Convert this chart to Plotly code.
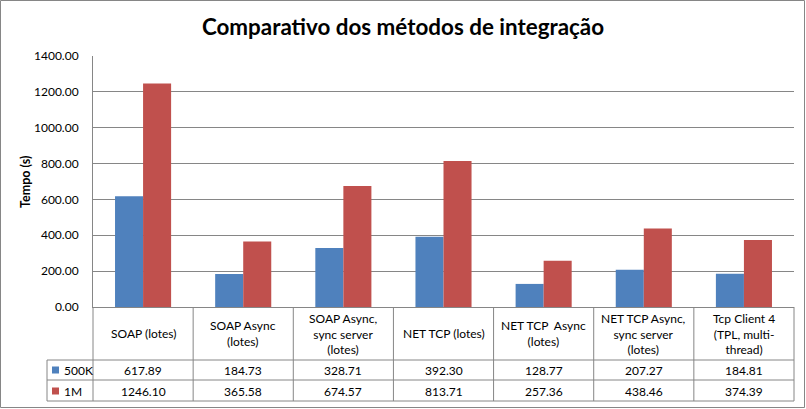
import plotly.graph_objects as go

categories = ["SOAP (lotes)", "SOAP Async<br>(lotes)", "SOAP Async,<br>sync server<br>(lotes)",
              "NET TCP (lotes)", "NET TCP  Async<br>(lotes)", "NET TCP Async,<br>sync server<br>(lotes)",
              "Tcp Client 4<br>(TPL, multi-<br>thread)"]
series_names = ["500K", "1M"]
values_500k = [617.89, 184.73, 328.71, 392.30, 128.77, 207.27, 184.81]
values_1m = [1246.10, 365.58, 674.57, 813.71, 257.36, 438.46, 374.39]
colors = ["#4F81BD", "#C0504D"]

W, H = 806, 409
L, R, T, B = 93, 794, 56, 307
PW, PH = R - L, B - T

def px(x):
    return (x - L) / PW

def py(y):
    return (B - y) / PH

FONT = "Lato, Open Sans, sans-serif"
GRAY = "#868686"

xs = list(range(len(categories)))
fig = go.Figure()
for name, vals, c in zip(series_names, [values_500k, values_1m], colors):
    fig.add_trace(go.Bar(x=xs, y=vals, name=name, marker=dict(color=c, line=dict(width=0))))

shapes = []
annotations = []
# outer border
shapes.append(dict(type="rect", xref="paper", yref="paper", x0=px(0.5), x1=px(W - 1.5), y0=py(H - 1.5), y1=py(0.5),
                   line=dict(color=GRAY, width=1)))
# table horizontal lines
for yy in [360, 380, 401]:
    shapes.append(dict(type="line", xref="paper", yref="paper", x0=px(47), x1=1, y0=py(yy), y1=py(yy),
                       line=dict(color=GRAY, width=1)))
# table left column line
shapes.append(dict(type="line", xref="paper", yref="paper", x0=px(47), x1=px(47), y0=py(360), y1=py(401),
                   line=dict(color=GRAY, width=1)))
# vertical separators
n = len(categories)
for i in range(n + 1):
    shapes.append(dict(type="line", xref="paper", yref="paper", x0=i / n, x1=i / n, y0=0, y1=py(401),
                       line=dict(color=GRAY, width=1)))
# legend keys in table
for c, yy, name in zip(colors, [370, 391], series_names):
    shapes.append(dict(type="rect", xref="paper", yref="paper", x0=px(52), x1=px(59), y0=py(yy + 3.5), y1=py(yy - 3.5),
                       fillcolor=c, line=dict(width=0)))
    annotations.append(dict(text=name, xref="paper", yref="paper", x=px(62), y=py(yy), xanchor="left", yanchor="middle",
                            showarrow=False, font=dict(family=FONT, size=12, color="#000")))

for i, cat in enumerate(categories):
    annotations.append(dict(text=cat, x=i, xref="x", yref="paper", y=py(333.5), yanchor="middle", xanchor="center",
                            showarrow=False, font=dict(family=FONT, size=12, color="#000")))
    annotations.append(dict(text=f"{values_500k[i]:.2f}", x=i, xref="x", yref="paper", y=py(370), yanchor="middle",
                            showarrow=False, font=dict(family=FONT, size=12, color="#000")))
    annotations.append(dict(text=f"{values_1m[i]:.2f}", x=i, xref="x", yref="paper", y=py(391), yanchor="middle",
                            showarrow=False, font=dict(family=FONT, size=12, color="#000")))

annotations.append(dict(text="<b>Tempo (s)</b>", xref="paper", yref="paper", x=px(25), y=py(182), textangle=-90,
                        showarrow=False, xanchor="center", yanchor="middle", font=dict(family=FONT, size=12.5, color="#000")))

fig.update_layout(
    width=W, height=H,
    margin=dict(l=L, r=W - R, t=T, b=H - B, pad=0),
    paper_bgcolor="white", plot_bgcolor="white",
    title=dict(text="<b>Comparativo dos métodos de integração</b>", x=0.5, xref="container", y=1 - 27 / H,
               xanchor="center", yanchor="middle", font=dict(family=FONT, size=22.4, color="#000")),
    barmode="group", bargap=0.44, bargroupgap=0,
    showlegend=False,
    xaxis=dict(range=[-0.5, n - 0.5], showticklabels=False, showgrid=False, zeroline=False, showline=True,
               linecolor=GRAY, linewidth=1, ticks=""),
    yaxis=dict(range=[0, 1400], dtick=200, tickformat=".2f", showgrid=True, gridcolor=GRAY, gridwidth=1,
               zeroline=False, showline=True, linecolor=GRAY, linewidth=1, ticks="", ticklabelstandoff=11,
               tickfont=dict(family=FONT, size=12, color="#000")),
    shapes=shapes, annotations=annotations,
)

fig.write_html("out.html", config={"displayModeBar": False},
               post_script="document.body.style.margin='0';document.body.style.overflow='hidden';")
